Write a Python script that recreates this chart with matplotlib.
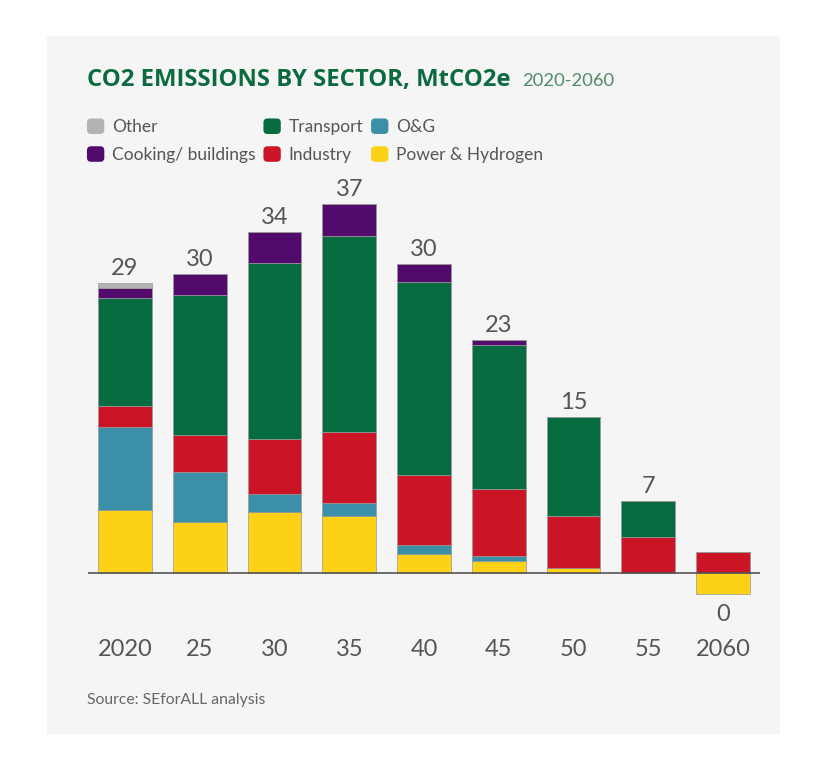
import matplotlib
matplotlib.use('Agg')
from matplotlib import pyplot as plt
from matplotlib.patches import Rectangle, Patch, FancyBboxPatch
from matplotlib.legend_handler import HandlerPatch
import numpy as np

# data, MtCO2e
years = ['2020', '25', '30', '35', '40', '45', '50', '55', '2060']
power = [6.3, 5.15, 6.15, 5.75, 1.9, 1.2, 0.5, 0.0, -2.1]
oil_gas = [8.3, 5.0, 1.8, 1.3, 0.9, 0.5, 0.0, 0.0, 0.0]
industry = [2.1, 3.7, 5.5, 7.1, 7.0, 6.7, 5.2, 3.6, 2.1]
transport = [10.8, 14.0, 17.6, 19.6, 19.3, 14.4, 9.9, 3.6, 0.0]
cooking = [1.0, 2.1, 3.1, 3.15, 1.8, 0.5, 0.0, 0.0, 0.0]
other = [0.5, 0.0, 0.0, 0.0, 0.0, 0.0, 0.0, 0.0, 0.0]
totals = [29, 30, 34, 37, 30, 23, 15, 7, 0]

plt.rcParams['font.family'] = ['Lato', 'DejaVu Sans']

colors = {
    'Power & Hydrogen': '#fdd116',
    'O&G': '#3b8fa7',
    'Industry': '#cc1427',
    'Transport': '#076b40',
    'Cooking/ buildings': '#530a6d',
    'Other': '#b3b3b3',
}

W, H = 834, 775
fig = plt.figure(figsize=(W / 100, H / 100), dpi=100)
fig.patch.set_facecolor('white')
fig.patches.append(Rectangle((47 / W, 1 - 734 / H), 733 / W, 698 / H,
                             transform=fig.transFigure, facecolor='#f5f5f5',
                             edgecolor='none', zorder=-10))

ax = fig.add_axes([88 / W, 1 - 620 / H, 672 / W, 460 / H])
ax.set_facecolor('none')
x = np.arange(len(years))
width = 0.72
edge = dict(edgecolor='#9a9a9a', linewidth=0.5)

series = [('Power & Hydrogen', power), ('O&G', oil_gas), ('Industry', industry),
          ('Transport', transport), ('Cooking/ buildings', cooking), ('Other', other)]
pos_bottom = np.zeros(len(years))
neg_bottom = np.zeros(len(years))
for name, vals in series:
    vals = np.array(vals)
    pos = np.where(vals > 0, vals, 0)
    neg = np.where(vals < 0, vals, 0)
    ax.bar(x, pos, width, bottom=pos_bottom, color=colors[name], **edge)
    if neg.any():
        ax.bar(x, neg, width, bottom=neg_bottom, color=colors[name], **edge)
    pos_bottom += pos
    neg_bottom += neg

for i, t in enumerate(totals):
    if t == 0:
        ax.annotate(str(t), (x[i], neg_bottom[i]), xytext=(0, -7),
                    textcoords='offset points', ha='center', va='top',
                    fontsize=17, color='#555555')
    else:
        ax.annotate(str(t), (x[i], pos_bottom[i]), xytext=(0, 3),
                    textcoords='offset points', ha='center', va='bottom',
                    fontsize=17, color='#555555')

ax.axhline(0, color='#555555', linewidth=1.2, zorder=5)
ax.set_xlim(-0.495, 8.495)
ax.set_ylim(-4.67, 41.33)
ax.set_xticks(x)
ax.set_xticklabels(years, fontsize=17, color='#555555')
ax.tick_params(axis='x', length=0, pad=14)
ax.set_yticks([])
for s in ax.spines.values():
    s.set_visible(False)


def rounded(legend, orig_handle, xdescent, ydescent, width, height, fontsize):
    return FancyBboxPatch((-xdescent + 1.5, -ydescent + 1.5), width - 3, height - 3,
                          boxstyle='round,pad=1.5,rounding_size=3')


order = ['Other', 'Cooking/ buildings', 'Transport', 'Industry', 'O&G', 'Power & Hydrogen']
handles = [Patch(facecolor=colors[n], edgecolor='none', label=n) for n in order]
fig.legend(handles=handles, loc='upper left', bbox_to_anchor=(80 / W, 1 - 111.5 / H),
           ncol=3, frameon=False, fontsize=12.5, handlelength=1.0, handleheight=1.0,
           handletextpad=0.45, columnspacing=0.45, labelspacing=0.64, borderaxespad=0,
           labelcolor='#555555', handler_map={Patch: HandlerPatch(patch_func=rounded)})

title = fig.text(87 / W, 1 - 86 / H, 'CO2 EMISSIONS BY SECTOR, MtCO2e', fontsize=17.2,
                 fontweight='bold', color='#0b6b3e', va='baseline',
                 family=['Open Sans', 'DejaVu Sans'])
fig.canvas.draw()
bb = title.get_window_extent()
fig.text((bb.x1 + 12) / W, 1 - 86 / H, '2020-2060', fontsize=13.2,
         color='#4f8c63', va='baseline')

fig.text(87 / W, 1 - 704 / H, 'Source: SEforALL analysis', fontsize=11.3,
         color='#666666', va='baseline')

plt.savefig('out.png', dpi=100)
